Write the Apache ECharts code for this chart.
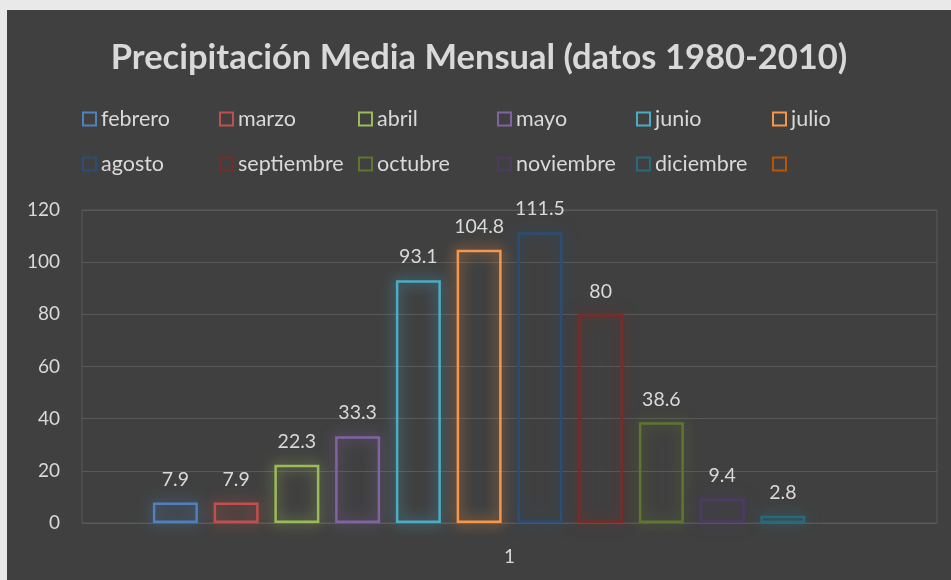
<!DOCTYPE html>
<html>
<head>
<meta charset="utf-8">
<script src="https://cdn.jsdelivr.net/npm/echarts@6/dist/echarts.min.js"></script>
<style>
  html, body { margin: 0; padding: 0; background: #e9e9e9; }
  #chart { position: absolute; left: 7px; top: 10px; width: 944px; height: 570px; }
</style>
</head>
<body>
<div id="chart"></div>
<script>
// months shown as separate series, one category ("1")
const categories = ['1'];
const months = ['febrero', 'marzo', 'abril', 'mayo', 'junio', 'julio',
  'agosto', 'septiembre', 'octubre', 'noviembre', 'diciembre', ' '];
const values = [7.9, 7.9, 22.3, 33.3, 93.1, 104.8, 111.5, 80, 38.6, 9.4, 2.8, null];
const colors = ['#4F81BD', '#C0504D', '#9BBB59', '#8064A2', '#4BACC6', '#F79646',
  '#2C4D75', '#772C2A', '#5F7530', '#4D3B62', '#276A7C', '#B65708'];

const FONT = 'Lato';
const TXT = '#d9d9d9';

// legend grid slots (Excel lays them out in columns)
const legendCols = [75, 212, 351, 490, 629, 765];
const legendRows = [98, 143];

const chart = echarts.init(document.getElementById('chart'), null, { renderer: 'canvas' });

const legends = months.map((m, i) => ({
  data: [m],
  left: legendCols[i % 6],
  top: legendRows[Math.floor(i / 6)],
  padding: 0,
  icon: 'rect',
  itemWidth: 13,
  itemHeight: 13,
  itemStyle: { borderWidth: 2, shadowBlur: 0 },
  textStyle: { color: TXT, fontSize: 21.5, fontFamily: FONT }
}));

const series = months.map((m, i) => ({
  name: m,
  type: 'bar',
  data: [values[i]],
  barWidth: 45,
  barGap: '35%',
  itemStyle: {
    color: 'rgba(0,0,0,0)',
    borderColor: colors[i],
    borderWidth: 2.5,
    shadowBlur: 14,
    shadowColor: colors[i]
  },
  label: {
    show: true,
    position: 'top',
    distance: 13,
    color: TXT,
    fontSize: 19.5,
    fontFamily: FONT
  }
}));

chart.setOption({
  backgroundColor: '#404040',
  animation: false,
  title: {
    text: 'Precipitación Media Mensual (datos 1980-2010)',
    left: 'center',
    top: 25,
    textStyle: { color: TXT, fontSize: 34.5, fontWeight: 'bold', fontFamily: FONT }
  },
  legend: legends,
  grid: {
    left: 75, right: 14, top: 200, bottom: 57,
    show: true, borderColor: '#595959', borderWidth: 1
  },
  xAxis: {
    type: 'category',
    data: categories,
    axisLine: { show: false },
    axisTick: { show: false },
    axisLabel: { color: TXT, fontSize: 19, fontFamily: FONT, margin: 24 }
  },
  yAxis: {
    type: 'value',
    min: 0, max: 120, interval: 20,
    axisLine: { show: false },
    axisTick: { show: false },
    splitLine: { lineStyle: { color: '#595959', width: 1 } },
    axisLabel: { color: TXT, fontSize: 19, fontFamily: FONT, margin: 22 }
  },
  series: series
});
</script>
</body>
</html>
